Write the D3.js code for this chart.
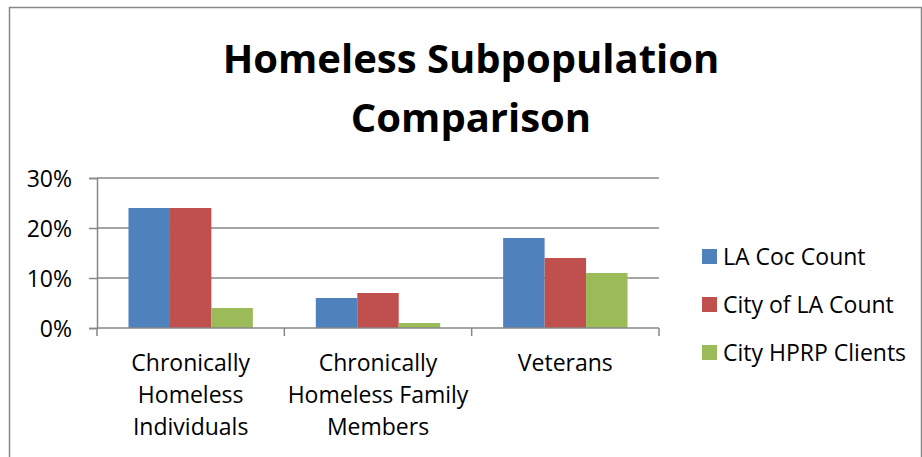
<!DOCTYPE html>
<html lang="en">
<head>
    <meta charset="UTF-8">
    <title>Homeless Subpopulation Comparison</title>
    <style>
        body { margin: 0; background: #fff; }
        text { font-family: "Open Sans", sans-serif; fill: #000; }
    </style>
</head>
<body>
    <svg width="922" height="457" id="svg"></svg>
    <script src="https://d3js.org/d3.v7.min.js"></script>
    <script>
        const categories = [
            ["Chronically", "Homeless", "Individuals"],
            ["Chronically", "Homeless Family", "Members"],
            ["Veterans"]
        ]
        const seriesNames = ["LA Coc Count", "City of LA Count", "City HPRP Clients"]
        const laCoc = [0.24, 0.06, 0.18]
        const cityLA = [0.24, 0.07, 0.14]
        const cityHPRP = [0.04, 0.01, 0.11]
        const yTicks = [0, 0.1, 0.2, 0.3]
        const colors = ["#4F81BD", "#C0504D", "#9BBB59"]

        const series = [laCoc, cityLA, cityHPRP]
        const catKeys = categories.map(c => c.join(" "))

        const svg = d3.select("svg#svg")

        // outer chart border
        svg.append("rect")
            .attr("x", 9.5).attr("y", 7.5)
            .attr("width", 912).attr("height", 470)
            .attr("fill", "#fff").attr("stroke", "#878787").attr("stroke-width", 1.5)

        const plot = { left: 97, right: 659, top: 178, bottom: 328 }

        const x0 = d3.scaleBand().domain(catKeys).range([plot.left, plot.right])
            .paddingInner(0.336).paddingOuter(0.168)
        const x1 = d3.scaleBand().domain(d3.range(series.length)).range([0, x0.bandwidth()])
        const y = d3.scaleLinear().domain([0, 0.3]).range([plot.bottom, plot.top])

        // gridlines
        svg.append("g").selectAll("line").data(yTicks.slice(1)).enter().append("line")
            .attr("x1", plot.left).attr("x2", plot.right)
            .attr("y1", d => y(d)).attr("y2", d => y(d))
            .attr("stroke", "#878787").attr("stroke-width", 1.5)

        // bars
        const groups = svg.append("g").selectAll("g").data(catKeys).enter().append("g")
            .attr("transform", d => `translate(${x0(d)},0)`)
        groups.selectAll("rect").data((d, i) => series.map((s, j) => ({ j: j, v: s[i] }))).enter().append("rect")
            .attr("x", d => x1(d.j))
            .attr("width", x1.bandwidth())
            .attr("y", d => y(d.v))
            .attr("height", d => y(0) - y(d.v))
            .attr("fill", d => colors[d.j])

        // y axis
        const yAxis = d3.axisLeft(y).tickValues(yTicks).tickSize(8).tickPadding(17)
            .tickFormat(d3.format(".0%"))
        const gy = svg.append("g").attr("transform", `translate(${plot.left},0)`).call(yAxis)
        gy.select(".domain").attr("stroke", "#878787").attr("stroke-width", 1.5)
        gy.selectAll(".tick line").attr("stroke", "#878787").attr("stroke-width", 1.5)
        gy.selectAll(".tick text").attr("font-size", 23).attr("font-family", "Open Sans").attr("dy", "0.36em")

        // x axis: line with ticks at category boundaries
        const bounds = [plot.left].concat(catKeys.map(k => x0(k) + x0.bandwidth() + x0.step() * x0.paddingInner() / 2))
        bounds[bounds.length - 1] = plot.right
        svg.append("line").attr("x1", plot.left).attr("x2", plot.right)
            .attr("y1", plot.bottom).attr("y2", plot.bottom)
            .attr("stroke", "#878787").attr("stroke-width", 1.5)
        svg.append("g").selectAll("line").data(bounds).enter().append("line")
            .attr("x1", d => d).attr("x2", d => d)
            .attr("y1", plot.bottom).attr("y2", plot.bottom + 8)
            .attr("stroke", "#878787").attr("stroke-width", 1.5)

        // category labels
        const labels = svg.append("g").selectAll("text").data(categories).enter().append("text")
            .attr("text-anchor", "middle").attr("font-size", 23)
            .attr("transform", (d, i) => `translate(${x0(catKeys[i]) + x0.bandwidth() / 2},371)`)
        labels.selectAll("tspan").data(d => d).enter().append("tspan")
            .attr("x", 0).attr("y", (d, i) => i * 32).text(d => d)

        // title
        svg.append("text").attr("x", 471).attr("y", 73).attr("text-anchor", "middle")
            .attr("font-size", 40).attr("font-weight", "bold").text("Homeless Subpopulation")
        svg.append("text").attr("x", 471).attr("y", 132).attr("text-anchor", "middle")
            .attr("font-size", 40).attr("font-weight", "bold").text("Comparison")

        // legend
        const legend = svg.append("g").selectAll("g").data(seriesNames).enter().append("g")
            .attr("transform", (d, i) => `translate(702,${256.5 + i * 48})`)
        legend.append("rect").attr("x", 0).attr("y", -7.5).attr("width", 15).attr("height", 15)
            .attr("fill", (d, i) => colors[i])
        legend.append("text").attr("x", 21).attr("y", 8).attr("font-size", 23).text(d => d)
    </script>
</body>
</html>
